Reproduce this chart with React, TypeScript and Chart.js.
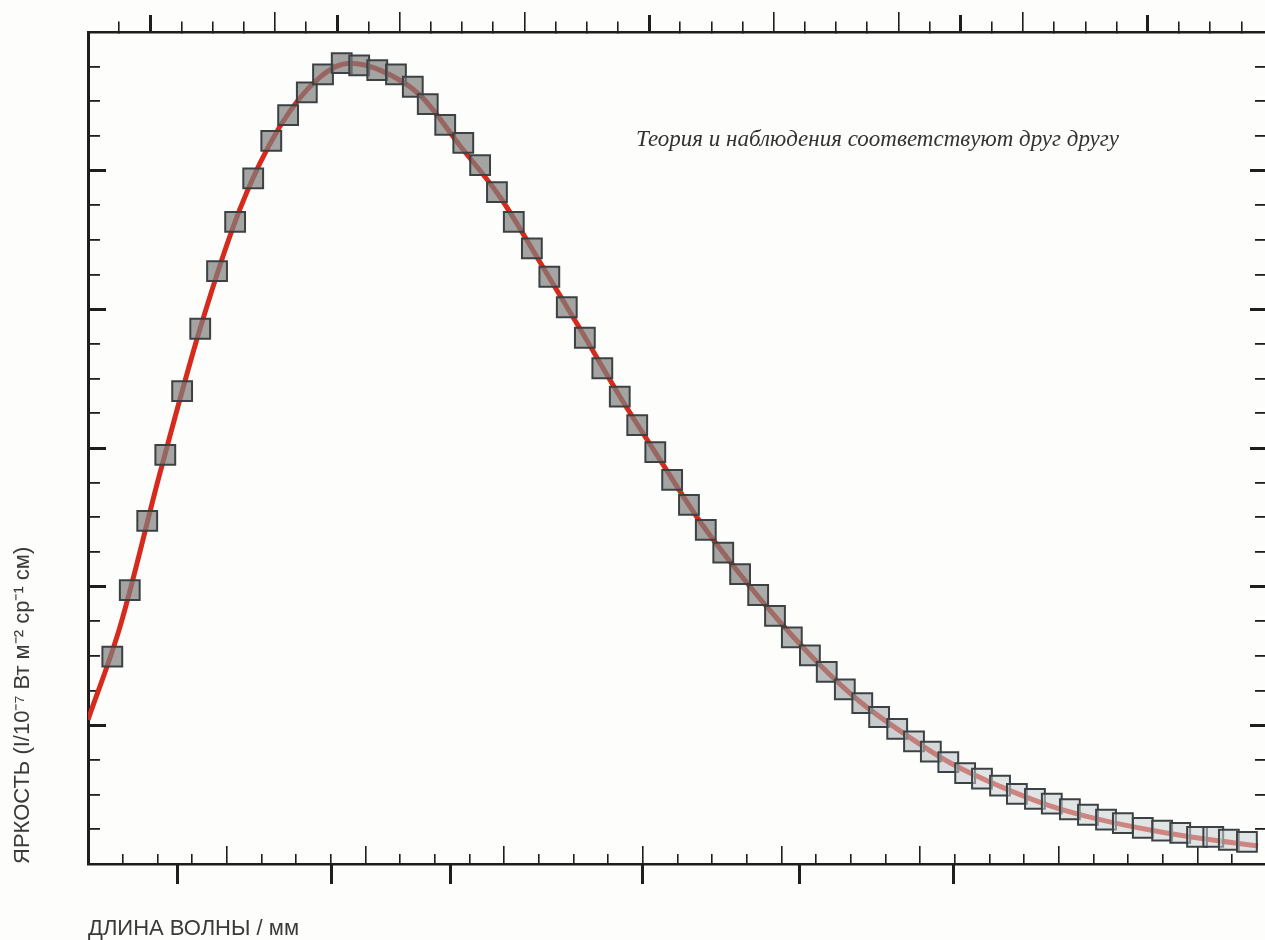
import React, { useEffect, useRef } from "react";
import { Chart, registerables } from "chart.js";

Chart.register(...registerables);

// x: frequency (cm^-1), y: brightness (10^-7 W m^-2 sr^-1 cm)
const X_MIN = 1;
const X_MAX = 19.88;
const Y_MIN = 0;
const Y_MAX = 1.2;
// auxiliary inner tick scale along the bottom frame
const XB_MIN = 0;
const XB_MAX = 33.95;

const X_TITLE = "ДЛИНА ВОЛНЫ / мм";
const Y_TITLE = "ЯРКОСТЬ (I/10⁻⁷ Вт м⁻² ср⁻¹ см)";
const NOTE = "Теория и наблюдения соответствуют друг другу";

const OBS_FREQ = [
  1.39, 1.67, 1.95, 2.24, 2.51, 2.8, 3.07, 3.36, 3.65, 3.94,
  4.21, 4.51, 4.77, 5.07, 5.35, 5.64, 5.94, 6.21, 6.45, 6.73,
  7.02, 7.29, 7.56, 7.83, 8.12, 8.4, 8.68, 8.97, 9.25, 9.53,
  9.81, 10.1, 10.37, 10.64, 10.91, 11.19, 11.46, 11.75, 12.02, 12.29,
  12.58, 12.85, 13.14, 13.42, 13.69, 13.98, 14.25, 14.52, 14.8, 15.07,
  15.34, 15.63, 15.9, 16.19, 16.46, 16.75, 17.04, 17.33, 17.6, 17.92,
  18.23, 18.52, 18.79, 19.05, 19.3, 19.59,
];
const OBS_BRIGHT = [
  0.299, 0.395, 0.495, 0.59, 0.682, 0.772, 0.855, 0.926, 0.989, 1.043,
  1.08, 1.113, 1.139, 1.155, 1.152, 1.145, 1.139, 1.121, 1.096, 1.066,
  1.04, 1.008, 0.969, 0.926, 0.888, 0.847, 0.803, 0.759, 0.715, 0.674,
  0.633, 0.594, 0.554, 0.518, 0.482, 0.449, 0.418, 0.388, 0.358, 0.327,
  0.301, 0.277, 0.252, 0.232, 0.212, 0.195, 0.177, 0.162, 0.147, 0.131,
  0.123, 0.113, 0.101, 0.094, 0.087, 0.079, 0.071, 0.064, 0.059, 0.052,
  0.048, 0.045, 0.039, 0.039, 0.035, 0.032,
];

const THEORY_FREQ = [
  1.0, 1.513, 2.155, 2.797, 3.438, 4.08, 4.722, 5.203, 5.684, 6.326,
  6.967, 7.609, 8.251, 8.892, 9.534, 10.176, 10.817, 11.459, 12.1, 12.742,
  13.384, 14.025, 14.827, 15.63, 16.432, 17.234, 18.036, 18.838, 19.768,
];
const THEORY_BRIGHT = [
  0.208, 0.342, 0.564, 0.772, 0.945, 1.064, 1.135, 1.155, 1.145, 1.109,
  1.036, 0.962, 0.868, 0.772, 0.674, 0.583, 0.494, 0.418, 0.349, 0.287,
  0.234, 0.192, 0.146, 0.112, 0.084, 0.064, 0.049, 0.037, 0.026,
];

const TOP_MINOR_TICKS = [
  1.5, 2.5, 3, 3.5, 4.5, 5.5, 6.5, 7, 7.5, 8.5, 9, 9.5, 10.5, 11, 11.5,
  12.5, 13, 13.5, 14.5, 15.5, 16.5, 17, 17.5, 18.5, 19, 19.5,
];
const TOP_TALL_TICKS = [4, 6, 8, 12, 14, 16];
const TOP_THICK_TICKS = [2, 5, 10, 15, 18];
const BOTTOM_OUTER_TICKS = [2.43, 4.91, 6.81, 9.89, 12.41, 14.89];
const BOTTOM_INNER_MINOR = [
  1, 2, 3, 5, 6, 7, 9, 10, 11, 13, 14, 15, 17, 18, 19, 21, 22, 23, 25, 26,
  27, 29, 30, 31, 33,
];
const BOTTOM_INNER_MAJOR = [4, 8, 12, 16, 20, 24, 28, 32];
const Y_MINOR_TICKS = [
  0.05, 0.1, 0.15, 0.25, 0.3, 0.35, 0.45, 0.5, 0.55, 0.65, 0.7, 0.75,
  0.85, 0.9, 0.95, 1.05, 1.1, 1.15,
];
const Y_MAJOR_TICKS = [0.2, 0.4, 0.6, 0.8, 1.0];

const INK = "#1e1e1e";
const TEXT = "#3a3a3a";
const SANS = '"Liberation Sans", Arial, sans-serif';

function tickScale(
  axis: string,
  position: any,
  min: number,
  max: number,
  values: number[],
  length: number,
  width: number,
  border = false
) {
  return {
    type: "linear",
    axis,
    position,
    min,
    max,
    afterBuildTicks: (s: any) => {
      s.ticks = values.map((v) => ({ value: v }));
    },
    ticks: { display: false },
    grid: {
      display: true,
      drawOnChartArea: false,
      drawTicks: true,
      tickLength: length,
      tickWidth: width,
      tickColor: INK,
      color: INK,
      lineWidth: width,
      offset: false,
    },
    border: { display: border, color: INK, width: 2.5 },
  };
}

function squareFill(ctx: any) {
  const i = ctx.dataIndex ?? 0;
  const t = Math.max(0, Math.min(1, (i - 36) / 14));
  const r = Math.round(125 + t * 75);
  const g = Math.round(127 + t * 80);
  const b = Math.round(125 + t * 87);
  const a = 0.7 - t * 0.15;
  return `rgba(${r},${g},${b},${a})`;
}

export default function App() {
  const ref = useRef<HTMLCanvasElement | null>(null);

  useEffect(() => {
    if (!ref.current) return;
    const obs = OBS_FREQ.map((x, i) => ({ x, y: OBS_BRIGHT[i] }));
    const theory = THEORY_FREQ.map((x, i) => ({ x, y: THEORY_BRIGHT[i] }));

    const chart = new Chart(ref.current, {
      type: "scatter",
      data: {
        datasets: [
          {
            type: "scatter",
            label: "Наблюдения",
            data: obs,
            xAxisID: "x",
            yAxisID: "y",
            pointStyle: "rect",
            pointRadius: 14,
            backgroundColor: squareFill,
            borderColor: "#3c4244",
            borderWidth: 2,
            order: 1,
          },
          {
            type: "line",
            label: "Теория",
            data: theory,
            xAxisID: "x",
            yAxisID: "y",
            borderColor: "#d62a1c",
            borderWidth: 5,
            pointRadius: 0,
            fill: false,
            cubicInterpolationMode: "monotone",
            order: 2,
          },
        ] as any,
      },
      options: {
        animation: false,
        responsive: false,
        maintainAspectRatio: false,
        devicePixelRatio: 1,
        layout: { padding: { left: 0, right: 0, top: 32, bottom: 0 } },
        plugins: {
          legend: { display: false },
          tooltip: { enabled: false },
          title: { display: false },
        },
        scales: {
          x: {
            type: "linear",
            position: "bottom",
            min: X_MIN,
            max: X_MAX,
            ticks: { display: false },
            grid: { display: false, drawTicks: false },
            border: { display: true, color: INK, width: 2.5 },
            title: {
              display: true,
              text: X_TITLE,
              align: "start",
              color: TEXT,
              font: { family: SANS, size: 22, lineHeight: 1.0 },
              padding: { top: 54, bottom: 0 },
            },
          },
          y: {
            type: "linear",
            position: "left",
            min: Y_MIN,
            max: Y_MAX,
            ticks: { display: false },
            grid: { display: false, drawTicks: false },
            border: { display: true, color: INK, width: 3 },
            title: {
              display: true,
              text: Y_TITLE,
              align: "start",
              color: TEXT,
              font: { family: SANS, size: 22, lineHeight: 1.2 },
              padding: { top: 9.8, bottom: 51.8 },
            },
          },
          xTopMinor: tickScale("x", { y: Y_MAX }, X_MIN, X_MAX, TOP_MINOR_TICKS, -12, 1.6, true),
          xTopTall: tickScale("x", { y: Y_MAX }, X_MIN, X_MAX, TOP_TALL_TICKS, -20, 1.6),
          xTopThick: tickScale("x", { y: Y_MAX }, X_MIN, X_MAX, TOP_THICK_TICKS, -17, 3),
          xBotOuter: tickScale("x", { y: Y_MIN }, X_MIN, X_MAX, BOTTOM_OUTER_TICKS, 20, 3),
          xBotMinor: tickScale("x", { y: Y_MIN }, XB_MIN, XB_MAX, BOTTOM_INNER_MINOR, -10, 1.6),
          xBotMajor: tickScale("x", { y: Y_MIN }, XB_MIN, XB_MAX, BOTTOM_INNER_MAJOR, -18, 1.6),
          yLeftMinor: tickScale("y", { x: X_MIN }, Y_MIN, Y_MAX, Y_MINOR_TICKS, -12, 1.8),
          yLeftMajor: tickScale("y", { x: X_MIN }, Y_MIN, Y_MAX, Y_MAJOR_TICKS, -18, 3),
          yRightMinor: tickScale("y", { x: X_MAX }, Y_MIN, Y_MAX, Y_MINOR_TICKS, 10, 1.8),
          yRightMajor: tickScale("y", { x: X_MAX }, Y_MIN, Y_MAX, Y_MAJOR_TICKS, 15, 3),
        } as any,
      },
    });
    return () => chart.destroy();
  }, []);

  return (
    <div
      style={{
        position: "fixed",
        left: 0,
        top: 0,
        width: 1265,
        height: 940,
        background: "#fdfdfb",
        overflow: "hidden",
      }}
    >
      <canvas ref={ref} width={1281} height={940} style={{ display: "block" }} />
      <div
        style={{
          position: "absolute",
          left: 636,
          top: 126,
          fontFamily: '"Liberation Serif", "DejaVu Serif", serif',
          fontStyle: "italic",
          fontSize: 23,
          color: "#333",
          whiteSpace: "nowrap",
        }}
      >
        {NOTE}
      </div>
    </div>
  );
}
